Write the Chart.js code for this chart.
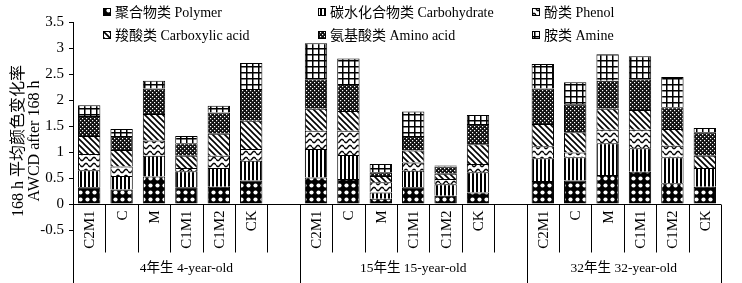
<!DOCTYPE html>
<html>
<head>
<meta charset="utf-8">
<script src="https://cdn.jsdelivr.net/npm/chart.js@4"></script>
<style>
  body { margin: 0; background: #fff; }
  #wrap { width: 742px; height: 283px; position: relative; }
</style>
</head>
<body>
<div id="wrap"><canvas id="awcdChart"></canvas></div>
<script>
// data
const groups = ["4年生 4-year-old", "15年生 15-year-old", "32年生 32-year-old"];
const treatments = ["C2M1", "C", "M", "C1M1", "C1M2", "CK"];
const seriesNames = ["聚合物类 Polymer", "碳水化合物类 Carbohydrate", "酚类 Phenol",
                     "羧酸类 Carboxylic acid", "氨基酸类 Amino acid", "胺类 Amine"];
const polymer      = [0.32, 0.28, 0.53, 0.32, 0.33, 0.45,  0.51, 0.48, 0.10, 0.32, 0.16, 0.22,  0.44, 0.45, 0.56, 0.62, 0.40, 0.33];
const carbohydrate = [0.33, 0.26, 0.40, 0.31, 0.36, 0.38,  0.55, 0.46, 0.12, 0.32, 0.22, 0.39,  0.44, 0.45, 0.61, 0.45, 0.50, 0.36];
const phenol       = [0.31, 0.18, 0.29, 0.06, 0.24, 0.23,  0.35, 0.47, 0.20, 0.16, 0.10, 0.16,  0.23, 0.09, 0.26, 0.36, 0.22, 0.00];
const carboxylic   = [0.35, 0.32, 0.51, 0.24, 0.42, 0.54,  0.42, 0.38, 0.12, 0.23, 0.10, 0.38,  0.43, 0.39, 0.40, 0.38, 0.32, 0.24];
const aminoAcid    = [0.38, 0.27, 0.49, 0.24, 0.41, 0.61,  0.57, 0.52, 0.07, 0.28, 0.14, 0.39,  0.68, 0.54, 0.54, 0.59, 0.42, 0.45];
const amine        = [0.21, 0.13, 0.15, 0.14, 0.13, 0.50,  0.69, 0.49, 0.16, 0.47, 0.02, 0.17,  0.47, 0.42, 0.51, 0.44, 0.58, 0.08];
const yTicks = [-0.5, 0, 0.5, 1, 1.5, 2, 2.5, 3, 3.5];
const yTitle = ["168 h 平均颜色变化率", "AWCD after 168 h"];

const FONT = "'Liberation Serif', 'Noto Sans CJK SC', serif";

// 6 bars per group, one blank slot between groups
const labels = [];
const slotGroup = [];
groups.forEach((g, gi) => {
  treatments.forEach(t => { labels.push(t); slotGroup.push(gi); });
  if (gi < groups.length - 1) { labels.push(""); slotGroup.push(-1); }
});
function expand(arr) {
  const out = [];
  groups.forEach((g, gi) => {
    for (let i = 0; i < treatments.length; i++) out.push(arr[gi * treatments.length + i]);
    if (gi < groups.length - 1) out.push(null);
  });
  return out;
}

// hatch patterns
function makePattern(w, h, draw) {
  const c = document.createElement("canvas");
  c.width = w; c.height = h;
  const g = c.getContext("2d");
  draw(g, w, h);
  return g.createPattern(c, "repeat");
}
const patterns = [
  makePattern(7, 7, (g, w, h) => {          // polymer: white circles on black
    g.fillStyle = "#000"; g.fillRect(0, 0, w, h);
    g.fillStyle = "#fff"; g.beginPath(); g.arc(3.5, 3.5, 2.1, 0, Math.PI * 2); g.fill();
  }),
  makePattern(4, 4, (g, w, h) => {          // carbohydrate: vertical lines
    g.fillStyle = "#fff"; g.fillRect(0, 0, w, h);
    g.fillStyle = "#000"; g.fillRect(0, 0, 2, h);
  }),
  makePattern(8, 6, (g, w, h) => {          // phenol: waves
    g.fillStyle = "#fff"; g.fillRect(0, 0, w, h);
    g.strokeStyle = "#000"; g.lineWidth = 1.4; g.beginPath();
    for (let x = 0; x <= w; x += 0.5) {
      const y = 3 + 1.6 * Math.sin(x / w * Math.PI * 2);
      if (x === 0) g.moveTo(x, y); else g.lineTo(x, y);
    }
    g.stroke();
  }),
  makePattern(6, 6, (g, w, h) => {          // carboxylic: back diagonals
    g.fillStyle = "#fff"; g.fillRect(0, 0, w, h);
    g.strokeStyle = "#000"; g.lineWidth = 1.6; g.beginPath();
    g.moveTo(-1, -1); g.lineTo(w + 1, h + 1);
    g.moveTo(-1, h - 1); g.lineTo(1, h + 1);
    g.moveTo(w - 1, -1); g.lineTo(w + 1, 1);
    g.stroke();
  }),
  makePattern(4, 4, (g, w, h) => {          // amino acid: dark with small dots
    g.fillStyle = "#111"; g.fillRect(0, 0, w, h);
    g.fillStyle = "#fff"; g.fillRect(0, 0, 1.2, 1.2); g.fillRect(2, 2, 1.2, 1.2);
  }),
  makePattern(6, 6, (g, w, h) => {          // amine: grid
    g.fillStyle = "#fff"; g.fillRect(0, 0, w, h);
    g.fillStyle = "#000"; g.fillRect(0, 0, w, 1.5); g.fillRect(0, 0, 1.5, h);
  })
];

const seriesData = [polymer, carbohydrate, phenol, carboxylic, aminoAcid, amine];

const decorations = {
  id: "decorations",
  afterDraw(chart) {
    const ctx = chart.ctx;
    const x = chart.scales.x, y = chart.scales.y;
    const y0 = Math.round(y.getPixelForValue(0)) + 0.5;
    const H = chart.height;
    const half = (x.getPixelForValue(1) - x.getPixelForValue(0)) / 2;
    const left = x.getPixelForValue(0) - half;
    const right = x.getPixelForValue(labels.length - 1) + half;
    ctx.save();
    ctx.strokeStyle = "#000"; ctx.lineWidth = 1;
    // category axis line and table
    ctx.beginPath();
    ctx.moveTo(left, y0); ctx.lineTo(right, y0);
    for (let i = 0; i <= labels.length; i++) {
      const xp = Math.round(left + i * 2 * half) + 0.5;
      const isEdge = i === 0 || i === labels.length || slotGroup[i - 1] === -1;
      ctx.moveTo(xp, y0);
      ctx.lineTo(xp, isEdge ? H : y0 + 48);
    }
    ctx.stroke();
    ctx.fillStyle = "#000";
    // treatment labels, rotated
    ctx.font = "15px " + FONT;
    labels.forEach((l, i) => {
      if (!l) return;
      ctx.save();
      ctx.translate(x.getPixelForValue(i) + 5, y0 + 6);
      ctx.rotate(-Math.PI / 2);
      ctx.textAlign = "right"; ctx.textBaseline = "alphabetic";
      ctx.fillText(l, 0, 0);
      ctx.restore();
    });
    // group labels
    ctx.font = "13.5px " + FONT;
    ctx.textAlign = "center"; ctx.textBaseline = "middle";
    groups.forEach((g, gi) => {
      const first = slotGroup.indexOf(gi);
      const a = left + first * 2 * half;
      const b = gi < groups.length - 1 ? a + (treatments.length + 1) * 2 * half : right;
      ctx.fillText(g, (a + b) / 2, 268);
    });
    // y title
    ctx.font = "16px " + FONT;
    ctx.save();
    ctx.translate(0, 141);
    ctx.rotate(-Math.PI / 2);
    ctx.fillText(yTitle[0], 0, 19);
    ctx.fillText(yTitle[1], 0, 35);
    ctx.restore();
    // legend, 3 columns x 2 rows
    const colX = [103, 318, 532];
    const rowY = [12, 35];
    ctx.font = "14px " + FONT;
    ctx.textAlign = "left";
    seriesNames.forEach((name, i) => {
      const cx = colX[i % 3], cy = rowY[Math.floor(i / 3)];
      ctx.fillStyle = patterns[i];
      ctx.fillRect(cx, cy - 4, 8, 8);
      ctx.strokeRect(cx + 0.5, cy - 3.5, 7, 7);
      ctx.fillStyle = "#000";
      ctx.fillText(name, cx + 12, cy + 1);
    });
    ctx.restore();
  }
};

new Chart(document.getElementById("awcdChart"), {
  type: "bar",
  data: {
    labels: labels,
    datasets: seriesNames.map((name, i) => ({
      label: name,
      data: expand(seriesData[i]),
      backgroundColor: patterns[i],
      borderColor: "#000",
      borderWidth: 1,
      categoryPercentage: 1,
      barPercentage: 0.69
    }))
  },
  options: {
    responsive: true,
    maintainAspectRatio: false,
    animation: false,
    layout: { padding: { top: 22, right: 21, bottom: 53, left: 0 } },
    plugins: { legend: { display: false }, tooltip: { enabled: false } },
    scales: {
      x: { stacked: true, display: false },
      y: {
        stacked: true,
        min: yTicks[0],
        max: yTicks[yTicks.length - 1],
        afterBuildTicks: s => { s.ticks = yTicks.map(v => ({ value: v })); },
        afterFit: s => { s.width = 73; },
        ticks: {
          color: "#000",
          padding: 5,
          font: { family: FONT, size: 15 },
          callback: v => String(+Number(v).toFixed(1))
        },
        grid: { drawOnChartArea: false, drawTicks: true, tickLength: 4, color: "#000" },
        border: { display: true, color: "#000", width: 1 }
      }
    }
  },
  plugins: [decorations]
});
</script>
</body>
</html>
